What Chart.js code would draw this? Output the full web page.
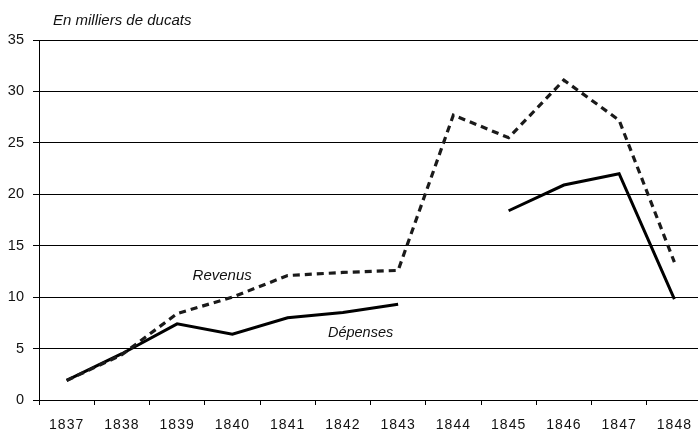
<!DOCTYPE html>
<html>
<head>
<meta charset="utf-8">
<script src="https://cdn.jsdelivr.net/npm/chart.js@4/dist/chart.umd.min.js"></script>
<style>
html,body{margin:0;padding:0;background:#fff;overflow:hidden;}
#wrap{width:698px;height:433px;position:relative;overflow:hidden;}
#c{display:block;}
</style>
</head>
<body>
<div id="wrap"><canvas id="c" width="702" height="433"></canvas></div>
<script>
const years = ['1837','1838','1839','1840','1841','1842','1843','1844','1845','1846','1847','1848'];
const revenus = [1.9, 4.4, 8.4, 10.0, 12.1, 12.4, 12.6, 27.7, 25.5, 31.1, 27.2, 13.4];
const depenses = [1.9, 4.5, 7.4, 6.4, 8.0, 8.5, 9.3, null, 18.4, 20.9, 22.0, 9.8];
const yTicks = [0, 5, 10, 15, 20, 25, 30, 35];
const unitLabel = 'En milliers de ducats';
const seriesNames = ['Revenus', 'Dépenses'];

const FONT = "'Liberation Sans', Arial, sans-serif";

const textPlugin = {
  id: 'texts',
  afterUpdate(chart) {
    const sx = chart.scales.x;
    if (!sx._patched) {
      const orig = sx.drawLabels.bind(sx);
      sx.drawLabels = function(area) {
        const ctx = chart.ctx;
        ctx.save();
        ctx.letterSpacing = '1px';
        orig(area);
        ctx.restore();
      };
      sx._patched = true;
    }
  },
  afterDraw(chart) {
    const ctx = chart.ctx;
    const sx = chart.scales.x, sy = chart.scales.y;
    ctx.save();
    ctx.fillStyle = '#111';
    ctx.textBaseline = 'alphabetic';
    ctx.textAlign = 'left';
    ctx.font = 'italic 15px ' + FONT;
    ctx.fillText(unitLabel, 53, 25);
    ctx.font = 'italic 15px ' + FONT;
    ctx.fillText(seriesNames[0], sx.getPixelForValue(2.28), sy.getPixelForValue(11.66));
    ctx.font = 'italic 14.5px ' + FONT;
    ctx.fillText(seriesNames[1], sx.getPixelForValue(4.73), sy.getPixelForValue(6.12));
    ctx.restore();
  }
};

new Chart(document.getElementById('c'), {
  type: 'line',
  data: {
    labels: years,
    datasets: [
      {
        label: seriesNames[0],
        data: revenus,
        borderColor: '#1a1a1a',
        borderWidth: 3.2,
        borderDash: [7, 5],
        pointRadius: 0,
        tension: 0,
        fill: false
      },
      {
        label: seriesNames[1],
        data: depenses,
        borderColor: '#000',
        borderWidth: 3,
        pointRadius: 0,
        tension: 0,
        spanGaps: false,
        fill: false
      }
    ]
  },
  options: {
    responsive: false,
    animation: false,
    events: [],
    layout: { padding: { top: 40, right: 0, left: 0, bottom: 0 } },
    plugins: { legend: { display: false }, tooltip: { enabled: false }, title: { display: false } },
    scales: {
      x: {
        type: 'category',
        offset: true,
        afterFit(s) { s.height = 33; },
        grid: {
          offset: true,
          drawOnChartArea: false,
          drawTicks: true,
          tickLength: 5,
          color: '#000',
          lineWidth: 1
        },
        border: { display: true, color: '#000', width: 1 },
        ticks: {
          color: '#111',
          font: { family: FONT, size: 14 },
          padding: 12,
          maxRotation: 0,
          autoSkip: false
        }
      },
      y: {
        min: 0,
        max: 35,
        afterFit(s) { s.width = 39; },
        afterBuildTicks(s) { s.ticks = yTicks.map(v => ({ value: v })); },
        grid: {
          color: '#000',
          lineWidth: 1,
          drawTicks: true,
          tickLength: 6
        },
        border: { display: true, color: '#000', width: 1 },
        ticks: {
          color: '#111',
          font: { family: FONT, size: 14.5 },
          padding: 9
        }
      }
    }
  },
  plugins: [textPlugin]
});
</script>
</body>
</html>
